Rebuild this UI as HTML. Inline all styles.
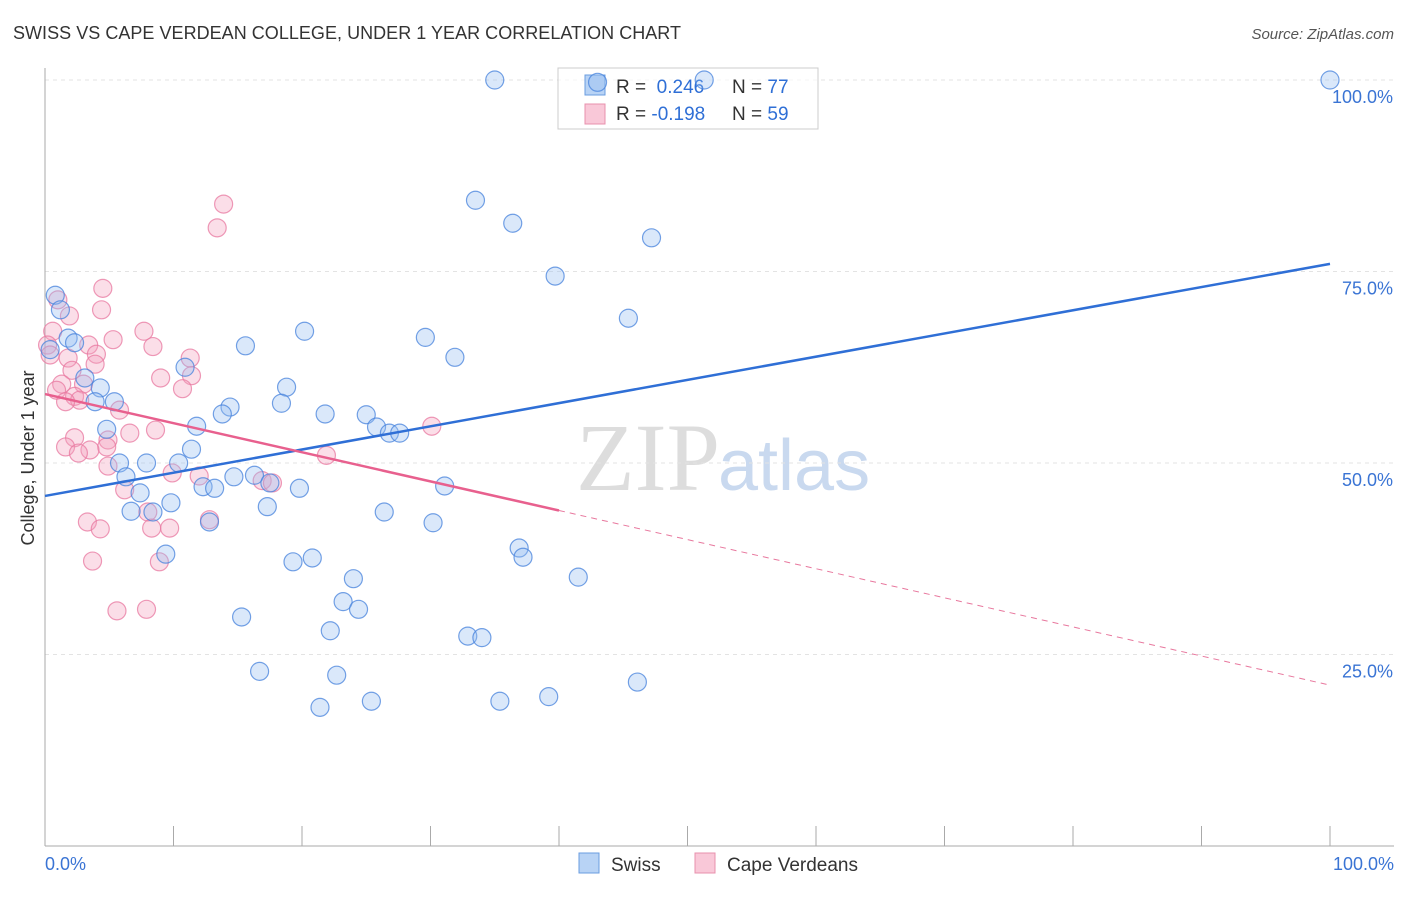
<!DOCTYPE html>
<html><head><meta charset="utf-8"><style>
body{margin:0;background:#fff;font-family:"Liberation Sans",sans-serif}
</style></head><body>
<svg id="chart" width="1406" height="892" xmlns="http://www.w3.org/2000/svg" font-family="Liberation Sans, sans-serif">
<text x="13" y="39" font-size="18" fill="#333" textLength="668">SWISS VS CAPE VERDEAN COLLEGE, UNDER 1 YEAR CORRELATION CHART</text>
<text x="1394" y="39" font-size="15" fill="#555" text-anchor="end" font-style="italic">Source: ZipAtlas.com</text>
<text x="720" y="490" font-size="96" fill="#ddd" text-anchor="end" font-family="Liberation Serif, serif">ZIP</text>
<text x="718" y="490" font-size="72" fill="#c9d9ef">atlas</text>
<g id="grid"></g><g id="axes"></g>
<g>
<rect x="558" y="68" width="260" height="61" fill="#fff" fill-opacity="0.6" stroke="#ccc"/>
<rect x="585" y="75" width="20" height="20" fill="#b8d3f5" stroke="#6a9de0"/>
<rect x="585" y="104" width="20" height="20" fill="#f9c8d8" stroke="#e890ad"/>
<text x="616" y="93" font-size="19" fill="#333">R = <tspan fill="#2f6fd6">&#160;0.246</tspan></text>
<text x="732" y="93" font-size="19" fill="#333">N = <tspan fill="#2f6fd6">77</tspan></text>
<text x="616" y="120" font-size="19" fill="#333">R = <tspan fill="#2f6fd6">-0.198</tspan></text>
<text x="732" y="120" font-size="19" fill="#333">N = <tspan fill="#2f6fd6">59</tspan></text>
</g>
<g id="marks"></g>
<text transform="translate(34,458) rotate(-90)" font-size="18" fill="#333" text-anchor="middle">College, Under 1 year</text>
<g>
<rect x="579" y="853" width="20" height="20" fill="#b8d3f5" stroke="#6a9de0"/>
<text x="611" y="871" font-size="19" fill="#333">Swiss</text>
<rect x="695" y="853" width="20" height="20" fill="#f9c8d8" stroke="#e890ad"/>
<text x="727" y="871" font-size="19" fill="#333">Cape Verdeans</text>
</g>
</svg>
<script>
const yTicks=[25,50,75,100];
const yTickLabels=["25.0%","50.0%","75.0%","100.0%"];
const xEndLabels=["0.0%","100.0%"];
const swissX=[35.0,43.0,51.3,100,33.5,36.4,47.2,39.7,45.4,0.8,1.2,1.8,2.3,0.4,20.2,29.6,15.6,31.9,10.9,3.1,4.3,18.8,3.9,5.4,18.4,14.4,13.8,21.8,25.0,11.8,25.8,26.8,27.6,4.8,11.4,5.8,7.9,10.4,6.3,14.7,16.3,17.5,12.3,13.2,19.8,31.1,7.4,9.8,17.3,6.7,8.4,26.4,12.8,30.2,9.4,36.9,37.2,19.3,20.8,41.5,24.0,23.2,24.4,15.3,22.2,32.9,34.0,16.7,22.7,46.1,39.2,35.4,25.4,21.4];
const swissY=[100,99.7,100,100,84.3,81.3,79.4,74.4,68.9,71.9,70.0,66.3,65.7,64.8,67.2,66.4,65.3,63.8,62.5,61.1,59.8,59.9,58.0,58.0,57.8,57.3,56.4,56.4,56.3,54.8,54.7,53.9,53.9,54.4,51.8,50.0,50.0,50.0,48.2,48.2,48.4,47.4,46.9,46.7,46.7,47.0,46.1,44.8,44.3,43.7,43.6,43.6,42.3,42.2,38.1,38.9,37.7,37.1,37.6,35.1,34.9,31.9,30.9,29.9,28.1,27.4,27.2,22.8,22.3,21.4,19.5,18.9,18.9,18.1];
const capeX=[13.9,13.4,4.5,1.0,4.4,1.9,0.6,7.7,5.3,3.4,0.2,8.4,0.4,4.0,11.3,1.8,3.9,2.1,11.4,9.0,1.3,3.0,10.7,0.9,2.3,2.7,1.6,5.8,8.6,6.6,30.1,4.9,2.3,1.6,4.8,3.5,2.6,21.9,4.9,9.9,12.0,16.9,17.7,6.2,8.0,12.8,3.3,9.7,4.3,8.3,8.9,3.7,5.6,7.9];
const capeY=[83.8,80.7,72.8,71.3,70.0,69.2,67.2,67.2,66.1,65.4,65.4,65.2,64.1,64.2,63.7,63.7,62.9,62.1,61.4,61.1,60.3,60.3,59.7,59.5,58.7,58.2,58.0,56.9,54.3,53.9,54.8,53.0,53.3,52.1,52.1,51.7,51.3,51.0,49.6,48.7,48.3,47.7,47.4,46.5,43.6,42.6,42.3,41.5,41.4,41.5,37.1,37.2,30.7,30.9];
const swissTrend=[45.7,76.0];
const capeTrend=[59.0,21.0];
const capeSolidEnd=40;
const NS="http://www.w3.org/2000/svg";
const X=v=>45+v*12.85, Y=v=>846-v*7.66;
function mk(parent,tag,attrs){const e=document.createElementNS(NS,tag);for(const k in attrs)e.setAttribute(k,attrs[k]);document.getElementById(parent).appendChild(e);return e;}
yTicks.forEach((t,i)=>{
 const g=mk('grid','line',{x1:45,x2:1394,y1:Y(t),y2:Y(t),stroke:'#e3e3e3','stroke-dasharray':'4,4'});
 
 
 const l=mk('axes','text',{x:1393,y:Y(t)+23,'font-size':18,fill:'#3a74d4','text-anchor':'end'});
 l.textContent=yTickLabels[i];
 
 
});
let a=mk('axes','line',{x1:45,x2:45,y1:68,y2:846,stroke:'#aaa'});


a=mk('axes','line',{x1:45,x2:1394,y1:846,y2:846,stroke:'#aaa'});


for(let i=0;i<=10;i++){const t=mk('axes','line',{x1:X(i*10),x2:X(i*10),y1:826,y2:846,stroke:'#aaa'});
 
 }
[[0,'start',45],[100,'end',1394]].forEach((d,i)=>{const t=mk('axes','text',{x:d[2],y:870,'font-size':18,fill:'#3a74d4','text-anchor':d[1]});t.textContent=xEndLabels[i];
 
 });
capeX.forEach((x,i)=>{const c=mk('marks','circle',{cx:X(x),cy:Y(capeY[i]),r:9,fill:'rgba(244,160,190,0.35)',stroke:'rgba(232,120,160,0.75)','stroke-width':1.2});
 
 });
swissX.forEach((x,i)=>{const c=mk('marks','circle',{cx:X(x),cy:Y(swissY[i]),r:9,fill:'rgba(150,190,240,0.35)',stroke:'rgba(70,130,220,0.75)','stroke-width':1.2});
 
 });
let l=mk('marks','line',{x1:X(0),y1:Y(swissTrend[0]),x2:X(100),y2:Y(swissTrend[1]),stroke:'#2f6fd6','stroke-width':2.5});


const cy=v=>capeTrend[0]+(capeTrend[1]-capeTrend[0])*v/100;
l=mk('marks','line',{x1:X(0),y1:Y(capeTrend[0]),x2:X(capeSolidEnd),y2:Y(cy(capeSolidEnd)),stroke:'#e8608e','stroke-width':2.5});


l=mk('marks','line',{x1:X(capeSolidEnd),y1:Y(cy(capeSolidEnd)),x2:X(100),y2:Y(capeTrend[1]),stroke:'#e8789e','stroke-width':1,'stroke-dasharray':'6,5'});


</script>
</body></html>
